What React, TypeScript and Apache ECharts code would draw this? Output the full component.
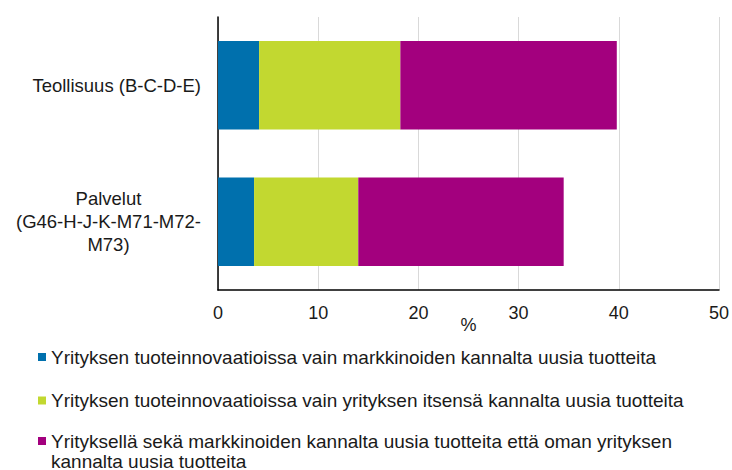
import React, { useEffect, useRef } from "react";
import * as echarts from "echarts";

const categories = ["Teollisuus (B-C-D-E)", "Palvelut (G46-H-J-K-M71-M72-M73)"];
const seriesNames = [
  "Yrityksen tuoteinnovaatioissa vain markkinoiden kannalta uusia tuotteita",
  "Yrityksen tuoteinnovaatioissa vain yrityksen itsensä kannalta uusia tuotteita",
  "Yrityksellä sekä markkinoiden kannalta uusia tuotteita että oman yrityksen kannalta uusia tuotteita",
];
const marketOnly = [4.1, 3.6];
const firmOnly = [14.1, 10.4];
const both = [21.6, 20.5];
const colors = ["#0070AD", "#C2D830", "#A3007E"];
const xTicks = { min: 0, max: 50, interval: 10 };

const FONT = "Arial, 'Liberation Sans', sans-serif";

export default function App() {
  const ref = useRef<HTMLDivElement>(null);
  useEffect(() => {
    if (!ref.current) return;
    const chart = echarts.init(ref.current, null, { renderer: "svg" });
    const values = [marketOnly, firmOnly, both];
    const legendTops = [347, 390.5, 411];
    chart.setOption({
      animation: false,
      textStyle: { fontFamily: FONT },
      grid: { left: 218, right: 12, top: 17, bottom: 180 },
      legend: seriesNames.map((n, i) => ({
        data: [n],
        orient: "vertical",
        left: 38,
        top: legendTops[i],
        padding: 0,
        itemWidth: 8,
        itemHeight: 8,
        icon: "rect",
        selectedMode: false,
        textStyle: { fontSize: 19, color: "#1a1a1a", fontFamily: FONT, lineHeight: 20 },
        formatter: (name: string) =>
          i === 2
            ? "\nYrityksellä sekä markkinoiden kannalta uusia tuotteita että oman yrityksen\nkannalta uusia tuotteita"
            : name,
      })),
      xAxis: {
        type: "value",
        min: xTicks.min,
        max: xTicks.max,
        interval: xTicks.interval,
        name: "%",
        nameLocation: "middle",
        nameGap: 26,
        nameMoveOverlap: false,
        nameTextStyle: { fontSize: 18, color: "#1a1a1a", fontFamily: FONT },
        axisLine: { show: true, lineStyle: { color: "#000", width: 1.5 } },
        axisTick: { show: false },
        axisLabel: { fontSize: 18, color: "#1a1a1a", margin: 14, fontFamily: FONT },
        splitLine: { show: true, lineStyle: { color: "#d9d9d9", width: 1 } },
      },
      yAxis: {
        type: "category",
        inverse: true,
        data: categories,
        axisLine: { show: true, lineStyle: { color: "#000", width: 1.5 } },
        axisTick: { show: false },
        axisLabel: {
          fontSize: 18.5,
          color: "#1a1a1a",
          margin: 17,
          fontFamily: FONT,
          formatter: (v: string) => {
            if (v.startsWith("Palvelut")) {
              return "{c|Palvelut}\n{c|(G46-H-J-K-M71-M72-}\n{c|M73)}";
            }
            return v;
          },
          rich: {
            c: { fontSize: 18.5, lineHeight: 23, align: "center", color: "#1a1a1a", fontFamily: FONT },
          },
        },
      },
      series: seriesNames.map((n, i) => ({
        name: n,
        type: "bar",
        stack: "total",
        barCategoryGap: "35%",
        itemStyle: { color: colors[i] },
        data: values[i],
      })),
    });
    return () => chart.dispose();
  }, []);
  return (
    <div
      ref={ref}
      style={{ position: "fixed", left: 0, top: 0, width: 732, height: 470, background: "#fff" }}
    />
  );
}
